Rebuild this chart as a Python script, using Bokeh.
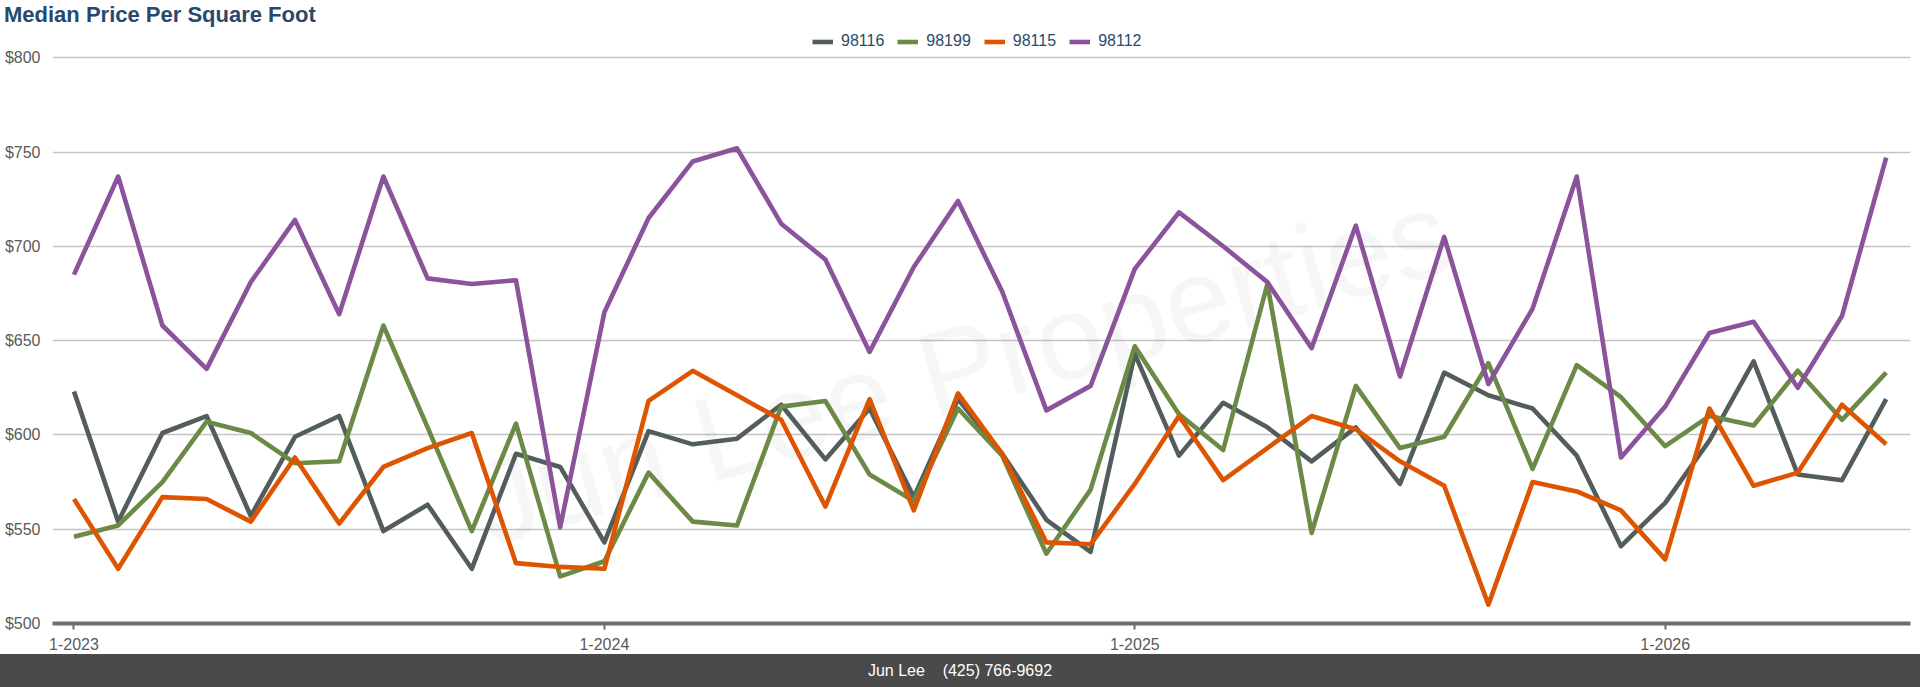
from bokeh.plotting import figure
from bokeh.models import (FixedTicker, Legend, LegendItem, Label, Div, Range1d,
                          NumeralTickFormatter)
from bokeh.layouts import column
from bokeh.embed import file_html
from bokeh.resources import INLINE

# ---------------- data ----------------
title_text = "Median Price Per Square Foot"
footer_text = "Jun Lee&nbsp;&nbsp;&nbsp;&nbsp;(425) 766-9692"
watermark_text = "Jun Lee Properties"

series_names = ["98116", "98199", "98115", "98112"]
series_colors = ["#535e5c", "#6a8a45", "#dd5500", "#8b539b"]

zip_98116 = [623, 554, 601, 610, 557, 599, 610, 549, 563, 529, 590, 583, 543, 602,
             595, 598, 616, 587, 614, 567, 619, 590, 555, 538, 643, 589, 617, 604,
             586, 604, 574, 633, 621, 614, 589, 541, 564, 597, 639, 579, 576, 619]
zip_98199 = [546, 552, 575, 607, 601, 585, 586, 658, 604, 549, 606, 525, 533, 580,
             554, 552, 615, 618, 579, 565, 614, 589, 537, 571, 647, 611, 592, 680,
             548, 626, 593, 599, 638, 582, 637, 620, 594, 610, 605, 634, 608, 633]
zip_98115 = [566, 529, 567, 566, 554, 588, 553, 583, 593, 601, 532, 530, 529, 618,
             634, 621, 608, 562, 619, 560, 622, 590, 543, 542, 574, 610, 576, 593,
             610, 603, 586, 573, 510, 575, 570, 560, 534, 614, 573, 580, 616, 595]
zip_98112 = [685, 737, 658, 635, 681, 714, 664, 737, 683, 680, 682, 551, 665, 715,
             745, 752, 712, 693, 644, 689, 724, 676, 613, 626, 688, 718, 700, 681,
             646, 711, 631, 705, 627, 667, 737, 588, 615, 654, 660, 625, 663, 747]

tick_labels = ["1-2023", "1-2024", "1-2025", "1-2026"]
y_ticks = [500, 550, 600, 650, 700, 750, 800]

series_values = [zip_98116, zip_98199, zip_98115, zip_98112]
months = list(range(len(zip_98116)))
x_ticks = [12 * k for k in range(len(tick_labels))]

# ---------------- figure ----------------
W = 1920
FRAME_H = 590          # frame height in px (room for legend above the $800 line)
PX_PER_DOLLAR = 1.886
p = figure(width=W, height=621, output_backend="svg", toolbar_location=None,
           x_range=Range1d(-0.486, 41.55),
           y_range=Range1d(500, 500 + FRAME_H / PX_PER_DOLLAR),
           min_border_left=52, min_border_right=10, min_border_top=0,
           min_border_bottom=31)
p.outline_line_color = None
p.background_fill_color = "white"
p.border_fill_color = "white"

p.xgrid.visible = False
p.ygrid.ticker = FixedTicker(ticks=y_ticks)
p.ygrid.grid_line_color = "#c4c4c4"
p.ygrid.grid_line_width = 1.4

# y axis
p.yaxis.ticker = FixedTicker(ticks=y_ticks)
p.yaxis.formatter = NumeralTickFormatter(format="$0")
p.yaxis.axis_line_color = None
p.yaxis.major_tick_line_color = None
p.yaxis.minor_tick_line_color = None
p.yaxis.major_tick_out = 0
p.yaxis.major_label_standoff = 12
p.yaxis.major_label_text_font = "Liberation Sans"
p.yaxis.major_label_text_font_size = "16px"
p.yaxis.major_label_text_color = "#5a5a5a"

# x axis
p.xaxis.ticker = FixedTicker(ticks=x_ticks)
p.xaxis.major_label_overrides = {t: lab for t, lab in zip(x_ticks, tick_labels)}
p.xaxis.axis_line_color = "#6e6e6e"
p.xaxis.axis_line_width = 4
p.xaxis.major_tick_line_color = "#6e6e6e"
p.xaxis.major_tick_line_width = 2
p.xaxis.major_tick_out = 6
p.xaxis.major_tick_in = 0
p.xaxis.minor_tick_line_color = None
p.xaxis.major_label_standoff = 8
p.xaxis.major_label_text_font = "Liberation Sans"
p.xaxis.major_label_text_font_size = "16px"
p.xaxis.major_label_text_color = "#5a5a5a"

# watermark
wm = Label(x=20.1, y=636, text=watermark_text, angle=16, angle_units="deg",
           text_align="center", text_baseline="middle",
           text_font="Liberation Sans", text_font_size="120px",
           text_color="#000000", text_alpha=0.035, level="underlay")
p.add_layout(wm)

items = []
for name, vals, col in zip(series_names, series_values, series_colors):
    r = p.line(months, vals, line_color=col, line_width=4.6, line_join="round")
    items.append(LegendItem(label=name, renderers=[r]))

legend = Legend(items=items, orientation="horizontal", location=(760, FRAME_H - 17),
                margin=0, padding=0, spacing=13, label_standoff=8,
                glyph_width=21, glyph_height=17, label_height=17,
                label_text_font="Liberation Sans", label_text_font_size="16px",
                label_text_color="#2a4a6b", border_line_color=None,
                background_fill_alpha=0)
p.add_layout(legend)

title_div = Div(text=f'<div style="font-family:\'Liberation Sans\',Arial,sans-serif;'
                     f'font-weight:bold;font-size:22px;line-height:25px;color:#27496d;'
                     f'padding:2px 0 0 4px;white-space:nowrap;">{title_text}</div>',
                width=W, height=33, margin=(0, 0, 0, 0))

footer_div = Div(text=f'<div style="background:#4a4a4a;color:#ffffff;'
                      f'font-family:\'Liberation Sans\',Arial,sans-serif;font-size:16px;'
                      f'text-align:center;line-height:33px;height:33px;width:{W}px;">'
                      f'{footer_text}</div>',
                 width=W, height=33, margin=(0, 0, 0, 0))

layout = column(title_div, p, footer_div, spacing=0)

open("out.html", "w").write(file_html(layout, INLINE))
